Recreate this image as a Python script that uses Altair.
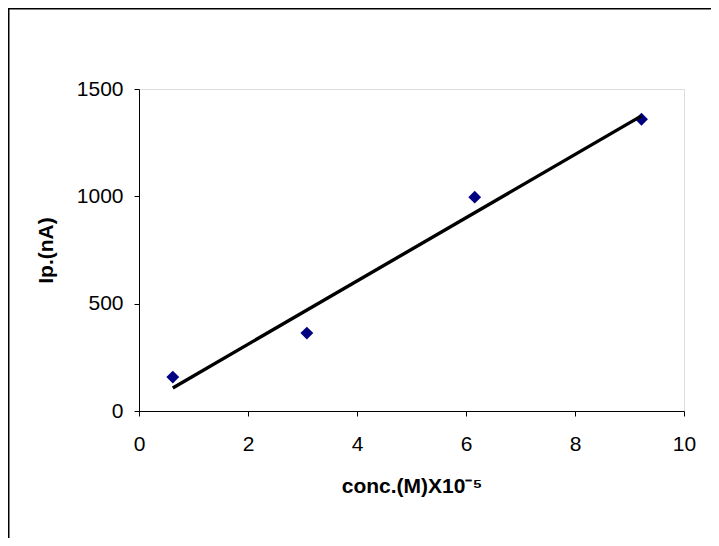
import altair as alt
import pandas as pd

# Data
conc = [0.62, 3.08, 6.16, 9.22]          # conc.(M) x10^-5
ip = [158, 363, 996, 1359]               # Ip (nA)
x_ticks = [0, 2, 4, 6, 8, 10]
y_ticks = [0, 500, 1000, 1500]

df = pd.DataFrame({"conc": conc, "ip": ip})

FONT = "Arial, Liberation Sans, sans-serif"

x_enc = alt.X(
    "conc:Q",
    scale=alt.Scale(domain=[0, 10], nice=False, zero=True),
    axis=alt.Axis(
        values=x_ticks,
        format="d",
        grid=False,
        title="conc.(M)X10⁻⁵",
        titleFont=FONT,
        titleFontSize=21,
        titleFontWeight="bold",
        titleColor="black",
        titleBaseline="middle",
        titleY=75,
        labelFont=FONT,
        labelFontSize=21,
        labelColor="black",
        labelPadding=17,
        tickSize=5,
        tickColor="black",
        domainColor="black",
        labelFlush=False,
    ),
)
y_enc = alt.Y(
    "ip:Q",
    scale=alt.Scale(domain=[0, 1500], nice=False),
    axis=alt.Axis(
        values=y_ticks,
        format="d",
        grid=False,
        title="Ip.(nA)",
        titleFont=FONT,
        titleFontSize=21,
        titleFontWeight="bold",
        titleColor="black",
        titleBaseline="middle",
        titleX=-93,
        labelFont=FONT,
        labelFontSize=21,
        labelColor="black",
        labelPadding=11,
        tickSize=5,
        tickColor="black",
        domainColor="black",
        labelFlush=False,
    ),
)

points = alt.Chart(df).mark_point(
    shape="diamond", filled=True, color="#000080", size=165, opacity=1
).encode(x=x_enc, y=y_enc)

trend = alt.Chart(df).transform_regression("conc", "ip").mark_line(
    color="black", strokeWidth=3.4
).encode(x=x_enc, y=y_enc)

frame_df = pd.DataFrame({"k": [0]})
top_border = alt.Chart(frame_df).mark_rule(color="black", strokeWidth=1.5).encode(
    x=alt.value(-131), x2=alt.value(600), y=alt.value(-80.25)
)
left_border = alt.Chart(frame_df).mark_rule(color="black", strokeWidth=1.5).encode(
    x=alt.value(-130.25), y=alt.value(-81), y2=alt.value(470)
)

chart = (
    alt.layer(top_border, left_border, points, trend)
    .properties(
        width=545,
        height=322,
        autosize=alt.AutoSizeParams(type="none"),
        padding={"left": 131, "top": 81, "right": 27, "bottom": 127},
    )
    .configure_view(stroke=None)
    .configure(background="white")
)

chart.save("out.html", embed_options={"renderer": "svg", "actions": False})
